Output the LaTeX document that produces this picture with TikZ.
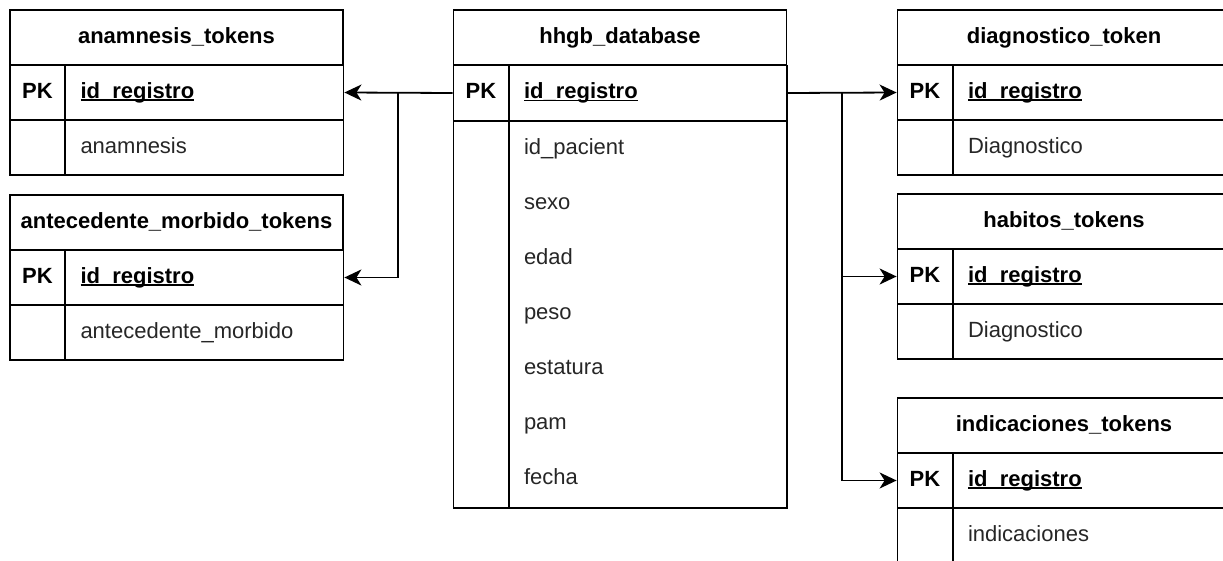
\documentclass[tikz,border=0pt]{standalone}
\usepackage{fontspec}
\setmainfont{Liberation Sans}
\usetikzlibrary{arrows.meta}
\newcommand\myul[1]{\setbox0\hbox{#1}\rlap{\rule[-2.4pt]{\wd0}{1.6pt}}\box0}
\tikzset{
  cell/.style={draw=black, line width=1.8pt, rectangle, inner sep=0pt, minimum height=55pt,
     text height=17pt, text depth=5pt,
     font=\fontsize{22}{26}\selectfont, text=black},
  hdr/.style={cell, minimum width=333pt, font=\fontsize{22}{26}\selectfont\bfseries},
  keycell/.style={cell, minimum width=55pt, font=\fontsize{22}{26}\selectfont\bfseries},
  fieldcell/.style={cell, minimum width=278pt, text width=248pt, align=left, inner xsep=15pt},
  fieldtxt/.style={inner sep=0pt, text width=248pt, align=left, minimum height=55pt,
     text height=17pt, text depth=5pt,
     font=\fontsize{22}{26}\selectfont, text=black!85},
  conn/.style={draw=black, line width=1.8pt, -{Stealth[length=17pt,width=16pt,inset=5pt]}},
}
\newcommand\ertable[5]{%
  \node[hdr] (#1-h) at (#2+166.5, #3+27.5) {#4};
  \node[keycell] (#1-k) at (#2+27.5, #3+82.5) {PK};
  \node[fieldcell, font=\fontsize{22}{26}\selectfont\bfseries] (#1-f) at (#2+194.5, #3+82.5) {\myul{id\_registro}};
  \node[keycell] (#1-k2) at (#2+27.5, #3+137.5) {};
  \node[fieldcell, text=black!85] (#1-f2) at (#2+194.5, #3+137.5) {#5};
}
\begin{document}
\begin{tikzpicture}[x=1pt, y=-1pt]
\useasboundingbox (0,0) rectangle (1223,561);
% left tables
\ertable{an}{10}{10}{anamnesis\_tokens}{anamnesis}
\ertable{am}{10}{195}{antecedente\_morbido\_tokens}{antecedente\_morbido}
% right tables
\ertable{dg}{897.5}{10}{diagnostico\_token}{Diagnostico}
\ertable{hb}{897.5}{194}{habitos\_tokens}{Diagnostico}
\ertable{ic}{897.5}{398}{indicaciones\_tokens}{indicaciones}
% central table
\node[hdr] (hh-h) at (620,37.5) {hhgb\_database};
\node[keycell] (hh-k) at (481,93) {PK};
\node[fieldcell, font=\fontsize{22}{26}\selectfont\bfseries] (hh-f) at (648,93) {\myul{id\_registro}};
\node[cell, minimum width=55pt, minimum height=387pt] (hh-kb) at (481,314.5) {};
\node[cell, minimum width=278pt, minimum height=387pt] (hh-fb) at (648,314.5) {};
\node[fieldtxt] (r1) at (648,148.5) {id\_pacient};
\node[fieldtxt] (r2) at (648,203.5) {sexo};
\node[fieldtxt] (r3) at (648,258.5) {edad};
\node[fieldtxt] (r4) at (648,313.5) {peso};
\node[fieldtxt] (r5) at (648,368.5) {estatura};
\node[fieldtxt] (r6) at (648,423.5) {pam};
\node[fieldtxt] (r7) at (648,478.5) {fecha};
% connectors
\coordinate (lj) at (398,93);
\coordinate (rj) at (842,93);
\draw[conn] (hh-k.west) -- (an-f.east);
\draw[conn] (lj) |- (am-f.east);
\draw[conn] (hh-f.east) -- (dg-k.west);
\draw[conn] (rj) |- (hb-k.west);
\draw[conn] (rj) |- (ic-k.west);
\end{tikzpicture}
\end{document}
